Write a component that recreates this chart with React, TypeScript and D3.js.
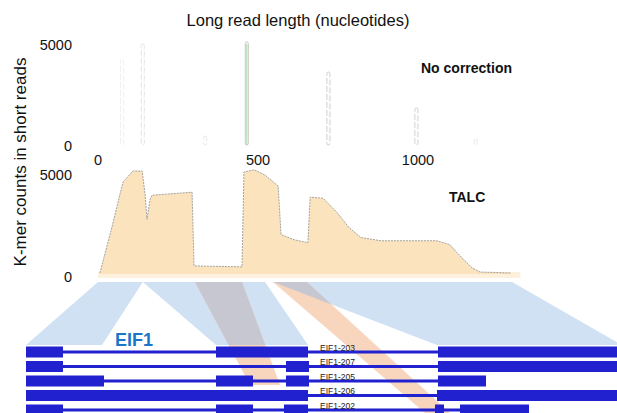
import React from "react";
import * as d3 from "d3";

// ---- data ----
const readTicks = [0, 500, 1000];
const countTicks = [0, 5000];

// "No correction" spikes: read position (nt) and k-mer count
const spikePositions = [75, 140, 335, 465, 720, 995, 1180];
const spikeCounts = [4250, 5050, 450, 5150, 3650, 1850, 300];

// TALC coverage profile
const talcPositions = [6, 44, 78, 109, 138, 147, 153, 163, 169, 294, 300, 450, 456, 488, 522, 563, 572, 613, 656, 663, 703, 747, 784, 822, 884, 1059, 1100, 1119, 1144, 1169, 1194, 1290];
const talcCounts = [50, 2400, 4640, 5200, 5200, 4030, 2760, 3780, 3980, 4130, 410, 360, 5150, 5260, 5000, 4440, 1990, 1730, 1580, 3880, 3830, 3110, 2350, 1840, 1680, 1680, 1480, 1120, 710, 310, 100, 50];

// mapping bands: read range -> gene range
const blueReadStart = [0, 140, 547];
const blueReadEnd = [140, 522, 1294];
const blueGeneStart = [0, 190, 411];
const blueGeneEnd = [76, 282, 596];

const orangeReadStart = [303, 547];
const orangeReadEnd = [450, 653];
const orangeGeneStart = [224, 399];
const orangeGeneEnd = [254, 424];

// transcripts (gene coordinates)
const transcripts = ["EIF1-203", "EIF1-207", "EIF1-205", "EIF1-206", "EIF1-202"];
const exons203 = [[0, 37], [190, 282], [412, 596]];
const exons207 = [[0, 37], [260, 283], [412, 596]];
const exons205 = [[0, 78], [190, 227], [260, 283], [412, 460]];
const exons206 = [[0, 282], [411, 596]];
const exons202 = [[0, 37], [190, 227], [258, 282], [409, 418], [434, 503]];
const transcriptExons = [exons203, exons207, exons205, exons206, exons202];

const FONT = "'Liberation Sans', Arial, Helvetica, sans-serif";

export default function App() {
  const W = 617, H = 413;
  const readX = d3.scaleLinear().domain([0, 1000]).range([98, 418]);
  const topY = d3.scaleLinear().domain([0, 5000]).range([145, 45]);
  const talcY = d3.scaleLinear().domain([0, 5000]).range([274, 175]);
  const geneX = d3.scaleLinear().domain([0, 596]).range([26, 622]);
  const rowY = d3.scalePoint<string>().domain(transcripts).range([352, 410]);

  const bandTop = 282;
  const bandBottom = 345;
  const orangeBottoms = [385, 413];

  const talcData = talcPositions.map((p, i) => [p, talcCounts[i]] as [number, number]);
  const area = d3.area<[number, number]>().x(d => readX(d[0])).y0(talcY(0)).y1(d => talcY(d[1]));
  const line = d3.line<[number, number]>().x(d => readX(d[0])).y(d => talcY(d[1]));

  const poly = (pts: [number, number][]) => d3.line()(pts) + "Z";

  const bluePolys = blueReadStart.map((r0, i) =>
    poly([
      [readX(r0), bandTop],
      [readX(blueReadEnd[i]), bandTop],
      [geneX(blueGeneEnd[i]), bandBottom],
      [geneX(blueGeneStart[i]), bandBottom],
    ])
  );
  const orangePolys = orangeReadStart.map((r0, i) =>
    poly([
      [readX(r0), bandTop],
      [readX(orangeReadEnd[i]), bandTop],
      [geneX(orangeGeneEnd[i]), orangeBottoms[i]],
      [geneX(orangeGeneStart[i]), orangeBottoms[i]],
    ])
  );

  const spikeStroke = ["#ececec", "#dedede", "#e2e2e2", "#b9b9b9", "#c2c2c2", "#c6c6c6", "#e0e0e0"];
  const exonColor = "#2121cf";
  const exonH = 11;

  return (
    <svg width={W} height={H} style={{ position: "absolute", left: 0, top: 0, background: "#fff" }} fontFamily={FONT}>
      <rect width={W} height={H} fill="#fff" />
      {/* title */}
      <text x={298} y={20} textAnchor="middle" dominantBaseline="central" fontSize={16.5} fill="#111">
        Long read length (nucleotides)
      </text>
      {/* y axis label */}
      <text transform="translate(20,162) rotate(-90)" textAnchor="middle" dominantBaseline="central" fontSize={17} fill="#111">
        K-mer counts in short reads
      </text>

      {/* top panel ticks */}
      {countTicks.map(t => (
        <text key={"tt" + t} x={72} y={topY(t) + (t === 0 ? 1 : 0)} textAnchor="end" dominantBaseline="central" fontSize={14.5} fill="#111">
          {t}
        </text>
      ))}
      {readTicks.map(t => (
        <text key={"xt" + t} x={readX(t)} y={160} textAnchor="middle" dominantBaseline="central" fontSize={14.5} fill="#111">
          {t}
        </text>
      ))}
      {/* spikes */}
      {spikePositions.map((p, i) => {
        const x = readX(p);
        const y0 = topY(0);
        const y1 = topY(spikeCounts[i]);
        return (
          <g key={"sp" + i}>
            <rect x={x - 1.5} y={y1} width={3} height={y0 - y1} rx={1.5} fill="#fff" stroke={spikeStroke[i]} strokeWidth={0.8} strokeDasharray={i === 3 ? undefined : "6,2"} />
            {i === 3 ? <line x1={x} x2={x} y1={y1 + 2} y2={y0} stroke="#a6dca6" strokeWidth={1} /> : null}
          </g>
        );
      })}
      <text x={421} y={68} dominantBaseline="central" fontSize={14} fontWeight="bold" fill="#111">
        No correction
      </text>

      {/* TALC panel */}
      {countTicks.map(t => (
        <text key={"bt" + t} x={72} y={talcY(t) + (t === 0 ? 3 : 0)} textAnchor="end" dominantBaseline="central" fontSize={14.5} fill="#111">
          {t}
        </text>
      ))}
      <rect x={readX(0)} y={talcY(0) - 2} width={readX(1320) - readX(0)} height={6} fill="#fdf0dc" />
      <path d={area(talcData) || ""} fill="#fae3bd" />
      <path d={line(talcData) || ""} fill="none" stroke="#9a9a9a" strokeWidth={0.9} strokeDasharray="2,1" />
      <text x={449} y={197} dominantBaseline="central" fontSize={14} fontWeight="bold" fill="#111">
        TALC
      </text>

      {/* mapping bands */}
      <defs>
        {bluePolys.map((d, i) => (
          <clipPath id={"bclip" + i} key={"bc" + i}>
            <path d={d} />
          </clipPath>
        ))}
      </defs>
      {bluePolys.map((d, i) => (
        <path key={"bp" + i} d={d} fill="#cfe1f3" />
      ))}
      {orangePolys.map((d, i) => (
        <path key={"op" + i} d={d} fill="#f8d6bd" />
      ))}
      {bluePolys.map((_, bi) => (
        <g key={"ov" + bi} clipPath={`url(#bclip${bi})`}>
          {orangePolys.map((d, i) => (
            <path key={"ovp" + i} d={d} fill="#c6c7d0" />
          ))}
        </g>
      ))}

      <text x={115} y={346} fontSize={18} fontWeight="bold" fill="#1b76c8">
        EIF1
      </text>

      {/* transcripts */}
      {transcripts.map((name, ti) => {
        const exs = transcriptExons[ti];
        const cy = rowY(name) as number;
        const start = exs[0][0];
        const end = exs[exs.length - 1][1];
        return (
          <g key={name}>
            <rect x={geneX(start)} y={cy - 1.5} width={geneX(end) - geneX(start)} height={3} fill={exonColor} />
            {exs.map((e, ei) => (
              <rect key={ei} x={geneX(e[0])} y={cy - exonH / 2} width={geneX(e[1]) - geneX(e[0])} height={exonH} fill={exonColor} />
            ))}
            <text x={320} y={cy - 1.5} fontSize={8.5} fill="#222">
              {name}
            </text>
          </g>
        );
      })}
    </svg>
  );
}
